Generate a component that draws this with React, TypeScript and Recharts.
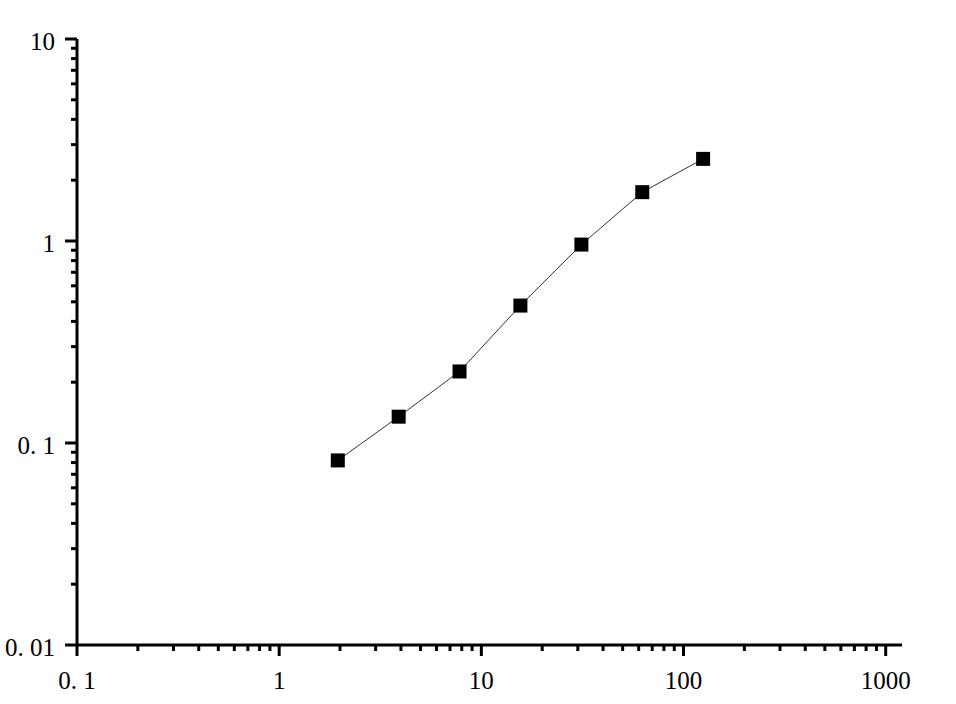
import { LineChart, Line, XAxis, YAxis } from 'recharts'

// standard curve: concentration vs OD (log-log)
const concentrations = [1.95, 3.9, 7.8, 15.6, 31.25, 62.5, 125]
const odValues = [0.082, 0.135, 0.226, 0.479, 0.96, 1.745, 2.55]

const xMajorTicks = [0.1, 1, 10, 100, 1000]
const xMajorLabels = ['0. 1', '1', '10', '100', '1000']
const yMajorTicks = [0.01, 0.1, 1, 10]
const yMajorLabels = ['0. 01', '0. 1', '1', '10']

// minor ticks at 2..9 of each decade
const withMinor = (majors: number[]) => {
  const out: number[] = []
  majors.forEach((m, i) => {
    out.push(m)
    if (i < majors.length - 1) {
      for (let k = 2; k <= 9; k++) out.push(+(m * k).toPrecision(3))
    }
  })
  return out
}

const xTicks = withMinor(xMajorTicks)
const yTicks = withMinor(yMajorTicks)

const data = concentrations.map((c, i) => ({ conc: c, od: odValues[i] }))

const FONT = 'Liberation Serif, serif'

const XTick = (props: any) => {
  const { x, y, payload } = props
  const idx = xMajorTicks.indexOf(payload.value)
  const major = idx >= 0
  return (
    <g>
      <line x1={x} x2={x} y1={y} y2={y + (major ? 11 : 6)} stroke="#000" strokeWidth={3} />
      {major && (
        <text x={x} y={y + 44} textAnchor="middle" style={{ fontSize: 25, fontFamily: FONT }} fill="#000">
          {xMajorLabels[idx]}
        </text>
      )}
    </g>
  )
}

const YTick = (props: any) => {
  const { x, y, payload } = props
  const idx = yMajorTicks.indexOf(payload.value)
  const major = idx >= 0
  return (
    <g>
      <line x1={x} x2={x - (major ? 12 : 6)} y1={y} y2={y} stroke="#000" strokeWidth={3} />
      {major && (
        <text x={x - 22} y={y + 11} textAnchor="end" style={{ fontSize: 25, fontFamily: FONT }} fill="#000">
          {yMajorLabels[idx]}
        </text>
      )}
    </g>
  )
}

const SquareDot = (props: any) => {
  const { cx, cy, index } = props
  return <rect key={`d-${index}`} x={cx - 7} y={cy - 7} width={14} height={14} fill="#000" />
}

export default function App() {
  return (
    <div style={{ position: 'absolute', left: 0, top: 0, width: 956, height: 704, background: '#fff' }}>
      <LineChart
        width={956}
        height={704}
        data={data}
        margin={{ top: 39, right: 54, left: 0, bottom: 0 }}
      >
        <XAxis
          dataKey="conc"
          type="number"
          scale="log"
          domain={[0.1, 1204]}
          allowDataOverflow
          ticks={xTicks}
          interval={0}
          tick={<XTick />}
          tickLine={false}
          tickSize={0}
          tickMargin={0}
          height={59}
          axisLine={{ stroke: '#000', strokeWidth: 3 }}
        />
        <YAxis
          type="number"
          scale="log"
          domain={[0.01, 10]}
          allowDataOverflow
          ticks={yTicks}
          interval={0}
          tick={<YTick />}
          tickLine={false}
          tickSize={0}
          tickMargin={0}
          width={77}
          axisLine={{ stroke: '#000', strokeWidth: 3 }}
        />
        <Line
          type="linear"
          dataKey="od"
          stroke="#333"
          strokeWidth={1}
          dot={SquareDot}
          activeDot={false}
          isAnimationActive={false}
        />
      </LineChart>
    </div>
  )
}
